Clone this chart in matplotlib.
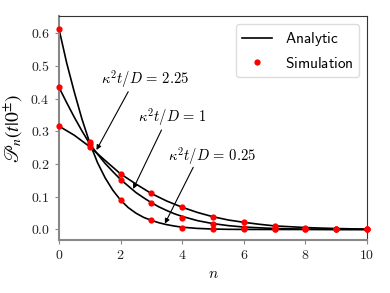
import numpy as np
import matplotlib
matplotlib.use('Agg')
import matplotlib.pyplot as plt

plt.rcParams['mathtext.fontset'] = 'cm'
plt.rcParams['font.family'] = 'serif'
plt.rcParams['font.serif'] = ['cmr10', 'DejaVu Serif']
plt.rcParams['axes.formatter.use_mathtext'] = True
plt.rcParams['font.size'] = 10

# simulation points
n_sim = [0, 1, 2, 3, 4, 5, 6, 7, 8, 9, 10]
sim_025 = [0.614, 0.268, 0.090, 0.028, 0.006, 0.001, 0.000, 0.000, 0.000, 0.000, 0.000]
sim_1 = [0.435, 0.262, 0.152, 0.080, 0.034, 0.018, 0.006, 0.003, 0.001, 0.000, 0.000]
sim_225 = [0.316, 0.253, 0.170, 0.110, 0.069, 0.038, 0.023, 0.011, 0.006, 0.002, 0.000]

# analytic curves
n_025 = [0, 0.25, 0.5, 0.75, 1, 1.25, 1.5, 1.75, 2, 2.25, 2.5, 2.75, 3, 3.25, 3.5, 3.75, 4, 4.5, 5, 5.5, 6, 7, 8, 9, 10]
an_025 = [0.614, 0.51, 0.42, 0.337, 0.265, 0.205, 0.158, 0.12, 0.09, 0.067, 0.05, 0.037, 0.028,
          0.0205, 0.0148, 0.0105, 0.007, 0.0033, 0.0014, 0.0005, 0.0002, 0.0, 0.0, 0.0, 0.0]
n_1 = [0, 0.25, 0.5, 0.75, 1, 1.25, 1.5, 1.75, 2, 2.25, 2.5, 2.75, 3, 3.25, 3.5, 3.75, 4, 4.5, 5, 5.5, 6, 7, 8, 9, 10]
an_1 = [0.435, 0.388, 0.343, 0.301, 0.262, 0.231, 0.202, 0.177, 0.153, 0.133, 0.113, 0.097, 0.082,
        0.069, 0.058, 0.048, 0.040, 0.027, 0.018, 0.0118, 0.0075, 0.003, 0.001, 0.0003, 0.0001]
n_225 = [0, 0.5, 1, 1.5, 2, 2.5, 3, 3.5, 4, 4.5, 5, 5.5, 6, 6.5, 7, 7.5, 8, 8.5, 9, 9.5, 10]
an_225 = [0.316, 0.288, 0.253, 0.211, 0.170, 0.139, 0.110, 0.087, 0.068, 0.052, 0.039, 0.029,
          0.022, 0.016, 0.011, 0.0085, 0.006, 0.0043, 0.003, 0.002, 0.001]

fig = plt.figure(figsize=(3.9, 2.93), dpi=100)
ax = fig.add_axes([0.151, 0.181, 0.790, 0.764])

ax.plot(n_025, an_025, color='k', lw=1.2, label='$\\mathsf{Analytic}$', zorder=2)
ax.plot(n_1, an_1, color='k', lw=1.2, zorder=2)
ax.plot(n_225, an_225, color='k', lw=1.2, zorder=2)
for i, ys in enumerate([sim_025, sim_1, sim_225]):
    ax.plot(n_sim, ys, 'o', color='red', ms=4.5, mec='none', clip_on=False,
            label='$\\mathsf{Simulation}$' if i == 0 else None, zorder=3)

arrow = dict(arrowstyle='-|>', color='k', lw=0.8, mutation_scale=7, shrinkA=0, shrinkB=0)
ax.text(1.38, 0.46, r'$\kappa^2t/D\,=\,2.25$', ha='left', va='center', fontsize=10.5)
ax.annotate('', xy=(1.22, 0.243), xytext=(2.25, 0.421), arrowprops=arrow)
ax.text(2.58, 0.345, r'$\kappa^2t/D\,=\,1$', ha='left', va='center', fontsize=10.5)
ax.annotate('', xy=(2.41, 0.124), xytext=(3.33, 0.304), arrowprops=arrow)
ax.text(3.53, 0.225, r'$\kappa^2t/D\,=\,0.25$', ha='left', va='center', fontsize=10.5)
ax.annotate('', xy=(3.44, 0.018), xytext=(4.36, 0.19), arrowprops=arrow)

ax.set_xlim(0, 10)
ax.set_ylim(-0.032, 0.652)
ax.set_xticks([0, 2, 4, 6, 8, 10])
ax.set_yticks([0.0, 0.1, 0.2, 0.3, 0.4, 0.5, 0.6])
ax.set_yticklabels(['$0.0$', '$0.1$', '$0.2$', '$0.3$', '$0.4$', '$0.5$', '$0.6$'])
ax.set_xticklabels(['$0$', '$2$', '$4$', '$6$', '$8$', '$10$'])
ax.set_xlabel('$n$', fontsize=11)
ax.set_ylabel(r'$\mathscr{P}_n(t|0^{\pm})$', fontsize=14, math_fontfamily='stix')

for side in ['left', 'bottom']:
    ax.spines[side].set_color('#888888')
    ax.spines[side].set_linewidth(1.5)
for side in ['top', 'right']:
    ax.spines[side].set_color('#333333')
    ax.spines[side].set_linewidth(0.8)
ax.tick_params(colors='#888888', labelcolor='#222222', length=3)

leg = ax.legend(loc='upper right', fontsize=11, framealpha=1, edgecolor='#dddddd',
                borderaxespad=0.5, handlelength=2.0)

fig.savefig('out.png', dpi=100)
